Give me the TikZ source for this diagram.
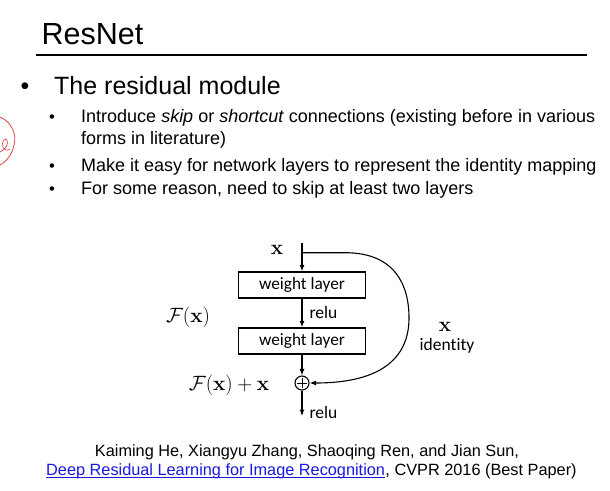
\documentclass[tikz,border=0pt]{standalone}
\usepackage[no-math]{fontspec}
\setmainfont{Liberation Sans}
\newfontfamily\carlito[Ligatures=NoCommon]{Carlito}
\usetikzlibrary{arrows.meta}
\definecolor{linkblue}{RGB}{25,25,225}
\definecolor{redpen}{RGB}{225,70,70}
\tikzset{
  txt/.style={inner sep=0pt, anchor=base west},
  sub/.style={txt, font=\fontsize{18}{22}\selectfont},
  dot/.style={inner sep=0pt, anchor=base, font=\fontsize{16.5}{20}\selectfont},
  layer/.style={draw, line width=1.2pt, minimum width=127pt, minimum height=26pt, inner sep=0pt, font=\carlito\fontsize{17.3}{20}\selectfont},
  lbl/.style={inner sep=0pt, font=\carlito\fontsize{17.5}{20}\selectfont},
  mth/.style={inner sep=0pt, font=\fontsize{20.74}{24}\selectfont},
  arr/.style={line width=1.1pt, -{Latex[length=6.5pt,width=5pt]}},
  cite/.style={inner sep=0pt, anchor=base, font=\fontsize{16.3}{19}\selectfont}
}
\begin{document}
\begin{tikzpicture}[x=1pt,y=-1pt]
\useasboundingbox (0,0) rectangle (610,490);
\fill[white] (0,0) rectangle (610,490);
% title
\node[txt, font=\fontsize{30.5}{34}\selectfont] (title) at (41.5,44) {ResNet};
\draw[line width=2pt] (36,55) -- (587,55);
% main bullet
\node[inner sep=0pt, anchor=base, font=\fontsize{25}{30}\selectfont] (b0) at (25,94) {•};
\node[txt, font=\fontsize{25}{30}\selectfont] (h0) at (54,94) {The residual module};
% sub bullets
\node[dot] (d1) at (52,122) {•};
\node[sub] (s1) at (81,122) {Introduce \textit{skip} or \textit{shortcut} connections (existing before in various};
\node[sub] (s1b) at (81,144) {forms in literature)};
\node[dot] (d2) at (52,171) {•};
\node[sub] (s2) at (81,171) {Make it easy for network layers to represent the identity mapping};
\node[dot] (d3) at (52,194) {•};
\node[sub] (s3) at (81,194) {For some reason, need to skip at least two layers};
% red pen annotation
\draw[redpen, line width=0.8pt] (0,117) .. controls (12,122) and (17,135) .. (14,145) .. controls (12,155) and (6,162) .. (0,165);
\draw[redpen, line width=0.7pt] (0,152) .. controls (5,150) and (9,144) .. (7,140) .. controls (5,137) and (1,142) .. (3,147) .. controls (4,150) and (8,151) .. (10,149);
% diagram
\node[layer] (w1) at (302,285) {weight layer};
\node[layer] (w2) at (302,341) {weight layer};
\node[circle, draw, line width=1.1pt, minimum size=14pt, inner sep=0pt] (add) at (302,383) {};
\draw[line width=0.8pt] ([yshift=-2.5pt]add.north) -- ([yshift=2.5pt]add.south);
\draw[line width=0.8pt] ([xshift=2.5pt]add.west) -- ([xshift=-2.5pt]add.east);
\coordinate (in) at (302,243);
\coordinate (skip) at (302,252.7);
\coordinate (k1) at (345,252.7);
\coordinate (k2) at (409,318);
\coordinate (out) at (302,416);
\draw[arr] (in) -- (w1);
\draw[arr] (w1) -- (w2);
\draw[arr] (w2) -- (add);
\draw[arr] (add) -- (out);
\draw[arr] (skip) -- (k1) .. controls (395,252.7) and (409,285) .. (k2) .. controls (409,355) and (385,383) .. (add.east);
\node[lbl] (r1) at (323.5,312) {relu};
\node[lbl] (r2) at (323.5,412) {relu};
\node[mth] (xin) at (277,250) {$\mathbf{x}$};
\node[mth] (fx) at (188,317) {$\mathcal{F}(\mathbf{x})$};
\node[mth] (fxx) at (229,385) {$\mathcal{F}(\mathbf{x})+\mathbf{x}$};
\node[mth] (xid) at (445,327) {$\mathbf{x}$};
\node[lbl] (ident) at (447,346) {identity};
% citation
\node[cite] (c1) at (307,456) {Kaiming He, Xiangyu Zhang, Shaoqing Ren, and Jian Sun,};
\node[txt, font=\fontsize{16.3}{19}\selectfont, text=linkblue] (lk) at (46,475) {Deep Residual Learning for Image Recognition};
\node[txt, font=\fontsize{16.3}{19}\selectfont] (rest) at (lk.base east) {, CVPR 2016 (Best Paper)};
\draw[linkblue, line width=0.8pt] ([yshift=-2pt]lk.base west) -- ([yshift=-2pt]lk.base east);
\end{tikzpicture}
\end{document}
